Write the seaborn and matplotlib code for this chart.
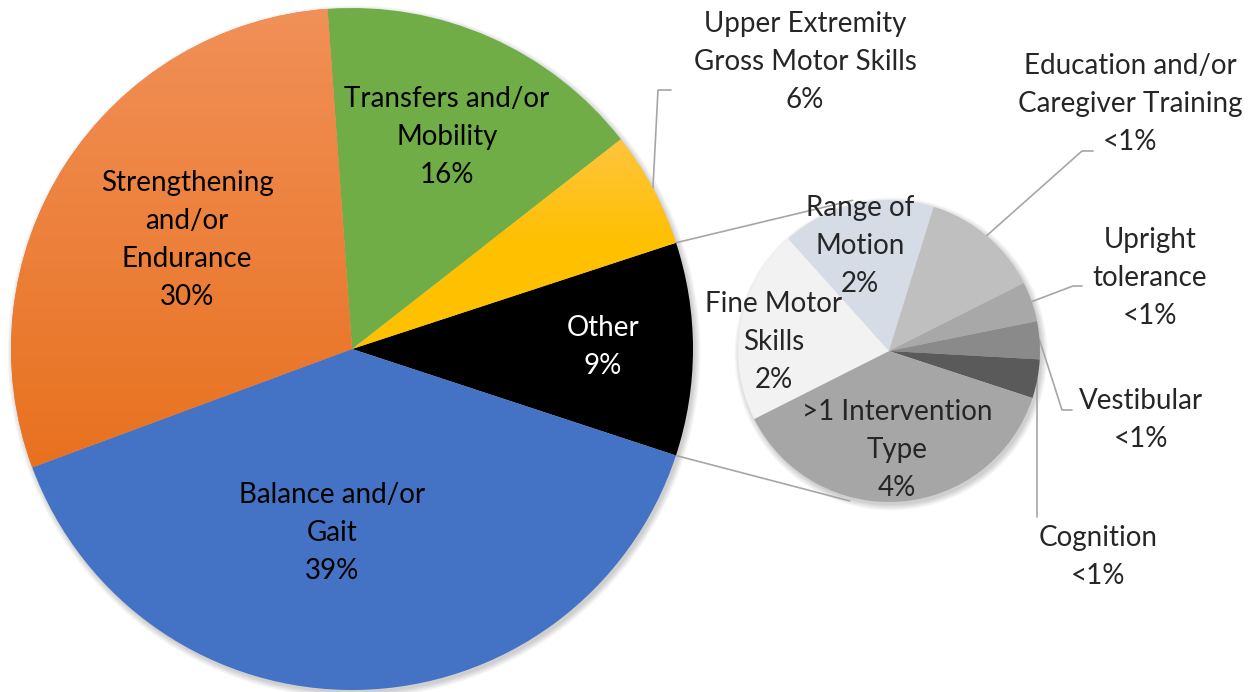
import numpy as np
import matplotlib
matplotlib.use("Agg")
import matplotlib.pyplot as plt
import seaborn as sns
from matplotlib.colors import LinearSegmentedColormap
from matplotlib.patches import Circle

# ---------------- data ----------------
main_labels = ["Other", "Upper Extremity\nGross Motor Skills", "Transfers and/or\nMobility",
               "Strengthening\nand/or\nEndurance", "Balance and/or\nGait"]
main_values = [10.1, 5.5, 15.6, 29.5, 39.3]
main_pct = ["9%", "6%", "16%", "30%", "39%"]
main_colors = ["#000000", "#FFC000", "#70AD47", "#ED7D31", "#4472C4"]

sub_labels = ["Range of\nMotion", "Education and/or\nCaregiver Training", "Upright\ntolerance",
              "Vestibular", "Cognition", ">1 Intervention\nType", "Fine Motor\nSkills"]
sub_values = [1.66, 1.29, 0.43, 0.41, 0.42, 3.79, 2.10]
sub_pct = ["2%", "<1%", "<1%", "<1%", "<1%", "4%", "2%"]
sub_colors = ["#D6DCE5", "#BFBFBF", "#A8A8A8", "#8A8A8A", "#5A5A5A", "#A6A6A6", "#F2F2F2"]

# ---------------- layout ----------------
W, H = 1257, 692
def py(y):
    return H - y

sns.set_theme(style="white")
plt.rcParams['font.family'] = ['Lato', 'DejaVu Sans']

fig = plt.figure(figsize=(W / 100, H / 100), dpi=100)
ax = fig.add_axes([0, 0, 1, 1])

main_c = (352, py(349)); main_r = 341
sub_c = (889, py(351)); sub_r = 151

# soft shadows
for (c, r) in [(main_c, main_r), (sub_c, sub_r)]:
    for k in range(8):
        ax.add_patch(Circle((c[0] + 2, c[1] - 3), r + k * 0.8, fc='black', alpha=0.025, lw=0, zorder=0))

mw, _ = ax.pie(main_values, colors=main_colors, startangle=-18.2, counterclock=True,
               center=main_c, radius=main_r, frame=True,
               wedgeprops=dict(linewidth=0, zorder=2))
sw, _ = ax.pie(sub_values, colors=sub_colors, startangle=131.9, counterclock=False,
               center=sub_c, radius=sub_r, frame=True,
               wedgeprops=dict(linewidth=0, zorder=2))

# gradients on orange and yellow wedges
def gradient(wedge, top, bottom, y0, y1):
    cmap = LinearSegmentedColormap.from_list("g", [top, bottom])
    arr = np.linspace(0, 1, 256).reshape(-1, 1)
    im = ax.imshow(arr, cmap=cmap, aspect='auto', origin='upper',
                   extent=(main_c[0] - main_r, main_c[0] + main_r, py(y1), py(y0)), zorder=2.5)
    im.set_clip_path(wedge)

gradient(mw[3], "#F19058", "#E8711F", 8, 470)
gradient(mw[1], "#FEC540", "#FFC000", 135, 245)

# connector lines from "Other" wedge to secondary pie (tangents)
def tangent(P, C, r, upper):
    d = np.hypot(P[0] - C[0], P[1] - C[1])
    base = np.arctan2(P[1] - C[1], P[0] - C[0])
    a = np.arccos(r / d)
    cands = [base + a, base - a]
    pts = [(C[0] + r * np.cos(t), C[1] + r * np.sin(t)) for t in cands]
    return max(pts, key=lambda p: p[1]) if upper else min(pts, key=lambda p: p[1])

ow = mw[0]
for ang, upper in [(ow.theta2, True), (ow.theta1, False)]:
    P = (main_c[0] + main_r * np.cos(np.radians(ang)), main_c[1] + main_r * np.sin(np.radians(ang)))
    T = tangent(P, sub_c, sub_r + 4, upper)
    ax.plot([P[0], T[0]], [P[1], T[1]], color="#A6A6A6", lw=1.2, zorder=1)

FS = 20
LS = 1.56

# main labels inside
main_pos = {0: (603, 347), 2: (447, 137), 3: (187, 240), 4: (332, 533)}
for i, (x, y) in main_pos.items():
    ax.text(x, py(y), main_labels[i] + "\n" + main_pct[i], ha='center', va='center',
            fontsize=FS, linespacing=LS, color='white' if i == 0 else 'black', zorder=5)

# upper extremity label with leader
ax.text(805, py(62), main_labels[1] + "\n" + main_pct[1], ha='center', va='center',
        fontsize=FS, linespacing=LS, zorder=5)
w = mw[1]
mid = np.radians((w.theta1 + w.theta2) / 2)
s = (main_c[0] + main_r * np.cos(mid), main_c[1] + main_r * np.sin(mid))
ax.plot([s[0], 658, 671], [s[1], py(90), py(90)], color="#A6A6A6", lw=1.2, zorder=1)

# secondary labels inside
sub_in = {0: (860, 246), 5: (897, 450), 6: (774, 342)}
for i, (x, y) in sub_in.items():
    ax.text(x, py(y), sub_labels[i] + "\n" + sub_pct[i], ha='center', va='center',
            fontsize=FS, linespacing=LS, zorder=5)

# secondary labels outside with leaders
sub_out = {1: ((1130, 104), [(1082, 151), (1093, 151)]),
           2: ((1150, 278), [(1073, 286), (1082, 286)]),
           3: ((1141, 420), [(1062, 410), (1072, 410)]),
           4: ((1098, 557), [(None, 517)])}
for i, ((x, y), elbow) in sub_out.items():
    ax.text(x, py(y), sub_labels[i] + "\n" + sub_pct[i], ha='center', va='center',
            fontsize=FS, linespacing=LS, zorder=5)
    w = sw[i]
    mid = np.radians((w.theta1 + w.theta2) / 2)
    s = (sub_c[0] + sub_r * np.cos(mid), sub_c[1] + sub_r * np.sin(mid))
    xs = [s[0]]; ys = [s[1]]
    for ex, ey in elbow:
        xs.append(s[0] if ex is None else ex)
        ys.append(py(ey))
    ax.plot(xs, ys, color="#A6A6A6", lw=1.2, zorder=1)

ax.set_xlim(0, W)
ax.set_ylim(0, H)
ax.set_aspect('auto')
ax.axis('off')
fig.savefig("out.png", dpi=100, facecolor='white')
